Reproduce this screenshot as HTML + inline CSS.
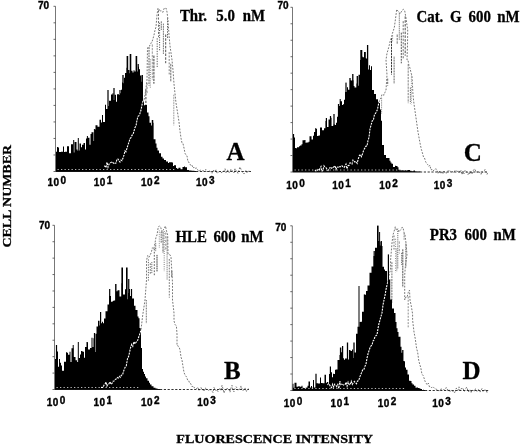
<!DOCTYPE html>
<html><head><meta charset="utf-8"><style>
html,body{margin:0;padding:0;background:#fff;width:520px;height:445px;overflow:hidden}
svg{display:block;filter:grayscale(1)}
</style></head><body>
<svg width="520" height="445" viewBox="0 0 520 445">
<rect width="520" height="445" fill="#fff"/>
<clipPath id="clipA"><path d="M56.00,171.50 L56.00,151.79 L57.00,151.79 L57.00,146.92 L58.00,146.92 L58.00,147.41 L59.00,147.41 L59.00,152.05 L61.00,152.05 L61.00,151.75 L63.00,151.75 L63.00,146.55 L64.00,146.55 L64.00,151.94 L65.00,151.94 L65.00,151.78 L67.00,151.78 L67.00,146.35 L69.00,146.35 L69.00,153.30 L71.00,153.30 L71.00,144.19 L73.00,144.19 L73.00,152.47 L74.50,152.47 L74.50,142.12 L76.50,142.12 L76.50,149.60 L77.50,149.60 L77.50,150.69 L78.50,150.69 L78.50,150.50 L79.50,150.50 L79.50,143.38 L81.00,143.38 L81.00,147.35 L82.00,147.35 L82.00,144.83 L83.50,144.83 L83.50,143.01 L85.00,143.01 L85.00,149.62 L86.00,149.62 L86.00,138.52 L87.00,138.52 L87.00,138.08 L88.00,138.08 L88.00,137.72 L89.50,137.72 L89.50,144.81 L90.50,144.81 L90.50,133.98 L91.50,133.98 L91.50,132.35 L93.50,132.35 L93.50,141.10 L94.50,141.10 L94.50,129.38 L95.50,129.38 L95.50,125.13 L97.50,125.13 L97.50,126.72 L99.50,126.72 L99.50,119.64 L101.00,119.64 L101.00,122.44 L102.00,122.44 L102.00,115.04 L103.00,115.04 L103.00,121.92 L105.00,121.92 L105.00,104.79 L106.00,104.79 L106.00,108.97 L108.00,108.97 L108.00,105.89 L109.00,105.89 L109.00,100.75 L111.00,100.75 L111.00,94.59 L112.50,94.59 L112.50,93.30 L113.50,93.30 L113.50,99.92 L114.50,99.92 L114.50,94.66 L116.00,94.66 L116.00,101.69 L117.00,101.69 L117.00,94.26 L119.00,94.26 L119.00,94.99 L120.00,94.99 L120.00,93.33 L121.00,93.33 L121.00,89.86 L122.00,89.86 L122.00,82.54 L123.00,82.54 L123.00,83.15 L124.00,83.15 L124.00,77.80 L125.00,77.80 L125.00,73.02 L126.50,73.02 L126.50,67.83 L127.50,67.83 L127.50,70.01 L129.50,70.01 L129.50,73.17 L130.50,73.17 L130.50,70.86 L132.50,70.86 L132.50,72.45 L133.50,72.45 L133.50,70.28 L134.50,70.28 L134.50,71.53 L136.00,71.53 L136.00,71.57 L138.00,71.57 L138.00,66.75 L139.00,66.75 L139.00,69.29 L140.00,69.29 L140.00,75.48 L141.50,75.48 L141.50,81.86 L143.00,81.86 L143.00,101.40 L144.00,101.40 L144.00,105.24 L145.00,105.24 L145.00,105.04 L147.00,105.04 L147.00,112.45 L148.50,112.45 L148.50,116.19 L149.50,116.19 L149.50,122.67 L151.00,122.67 L151.00,125.39 L152.00,125.39 L152.00,122.67 L153.50,122.67 L153.50,139.34 L155.50,139.34 L155.50,143.58 L156.50,143.58 L156.50,147.78 L157.50,147.78 L157.50,150.58 L159.00,150.58 L159.00,153.22 L161.00,153.22 L161.00,156.72 L162.50,156.72 L162.50,158.46 L164.00,158.46 L164.00,160.03 L166.00,160.03 L166.00,161.44 L168.00,161.44 L168.00,163.06 L169.00,163.06 L169.00,162.17 L170.00,162.17 L170.00,162.29 L172.00,162.29 L172.00,162.41 L173.00,162.41 L173.00,165.88 L174.00,165.88 L174.00,165.27 L176.00,165.27 L176.00,167.99 L177.00,167.99 L177.00,168.78 L178.50,168.78 L178.50,167.73 L180.50,167.73 L180.50,169.30 L182.50,169.30 L182.50,167.00 L184.00,167.00 L184.00,166.41 L185.00,166.41 L185.00,167.36 L187.00,167.36 L187.00,170.04 L189.00,170.04 L189.00,170.39 L190.00,170.39 L190.00,170.41 L191.50,170.41 L191.50,170.64 L192.50,170.64 L192.50,170.79 L194.50,170.79 L194.50,171.00 L195.50,171.00 L195.50,171.00 L196.50,171.00 L196.50,171.50 Z"/></clipPath>
<line x1="145.9" y1="89.6" x2="145.9" y2="116.7" stroke="#2a2a2a" stroke-width="0.9" stroke-dasharray="2.3 1.4"/>
<line x1="147.0" y1="82.9" x2="147.0" y2="94.2" stroke="#747474" stroke-width="0.9" stroke-dasharray="2.4 1.5"/>
<line x1="149.0" y1="47.2" x2="149.0" y2="85.7" stroke="#484848" stroke-width="0.9" stroke-dasharray="1.8 0.9"/>
<line x1="150.3" y1="59.4" x2="150.3" y2="88.5" stroke="#686868" stroke-width="0.9" stroke-dasharray="0.9 1.2"/>
<line x1="152.3" y1="44.4" x2="152.3" y2="79.9" stroke="#8b8b8b" stroke-width="0.9" stroke-dasharray="2.4 1.1"/>
<line x1="153.9" y1="55.6" x2="153.9" y2="83.7" stroke="#282828" stroke-width="0.9" stroke-dasharray="2.4 0.9"/>
<line x1="157.2" y1="38.3" x2="157.2" y2="67.0" stroke="#4e4e4e" stroke-width="0.9" stroke-dasharray="1.3 1.2"/>
<line x1="158.5" y1="10.3" x2="158.5" y2="37.2" stroke="#5f5f5f" stroke-width="0.9" stroke-dasharray="2.1 1.5"/>
<line x1="159.6" y1="22.8" x2="159.6" y2="51.0" stroke="#303030" stroke-width="0.9" stroke-dasharray="1.0 1.4"/>
<line x1="161.3" y1="21.3" x2="161.3" y2="30.0" stroke="#636363" stroke-width="0.9" stroke-dasharray="1.8 0.6"/>
<line x1="163.4" y1="23.6" x2="163.4" y2="54.0" stroke="#6c6c6c" stroke-width="0.9" stroke-dasharray="1.8 0.6"/>
<line x1="165.7" y1="34.5" x2="165.7" y2="63.2" stroke="#404040" stroke-width="0.9" stroke-dasharray="2.5 1.3"/>
<line x1="167.5" y1="18.3" x2="167.5" y2="39.2" stroke="#494949" stroke-width="0.9" stroke-dasharray="1.4 1.2"/>
<line x1="169.2" y1="52.2" x2="169.2" y2="74.4" stroke="#747474" stroke-width="0.9" stroke-dasharray="1.9 1.5"/>
<line x1="170.8" y1="63.8" x2="170.8" y2="81.9" stroke="#616161" stroke-width="0.9" stroke-dasharray="2.4 0.6"/>
<line x1="173.8" y1="94.7" x2="173.8" y2="125.4" stroke="#909090" stroke-width="0.9" stroke-dasharray="1.7 0.8"/>
<path d="M104.00,166.00 L105.00,166.20 L106.00,167.60 L107.00,162.32 L108.00,167.20 L109.00,164.26 L110.00,162.80 L111.00,162.46 L112.00,161.71 L113.00,162.66 L114.00,163.92 L115.00,163.21 L116.00,162.96 L117.00,159.12 L118.00,158.98 L119.00,161.00 L120.00,162.13 L121.00,160.05 L122.00,160.67 L123.00,158.01 L124.00,155.00 L125.00,150.86 L126.00,151.73 L127.00,148.14 L128.00,144.92 L129.00,142.00 L130.00,138.57 L131.00,137.60 L132.00,135.18 L133.00,134.54 L134.00,131.00 L135.00,127.52 L136.00,126.04 L137.00,120.00 L138.00,116.34 L139.00,115.71 L140.00,113.25 L141.00,110.00 L142.00,104.95 L143.00,100.73 L144.00,100.27 L145.00,95.00 L146.00,88.28 L147.00,80.00 L147.50,48.00 L148.53,46.51 L149.55,46.09 L150.57,43.24 L151.60,43.00 L152.80,39.36 L154.00,35.00 L155.00,30.09 L156.00,27.00 L157.00,15.00 L158.00,8.00 L159.00,9.28 L160.00,11.48 L161.00,10.49 L162.00,12.00 L163.00,12.27 L164.00,8.45 L165.00,8.57 L166.00,8.00 L167.00,11.95 L168.00,20.00 L169.00,35.00 L170.00,46.00 L171.00,52.85 L172.00,60.00 L173.00,70.00 L174.00,84.00 L175.00,93.62 L176.00,103.00 L177.00,109.04 L178.00,115.27 L179.00,122.00 L180.00,131.01 L181.00,138.14 L182.00,143.00 L183.00,143.68 L184.00,148.00 L185.00,153.26 L186.00,155.00 L187.00,155.92 L188.00,162.00 L189.00,162.10 L190.00,164.14 L191.00,165.77 L192.00,165.23 L193.00,168.00 L194.00,167.22 L195.00,168.71 L196.00,167.86 L197.00,168.24 L198.00,170.50 L199.00,171.20 L200.00,170.01 L201.00,170.43 L202.00,170.67 L203.00,171.00 L204.00,170.33 L205.00,170.25 L206.00,169.47 L207.00,172.01 L208.00,170.93 L209.00,170.86 L210.00,171.37 L211.00,171.88 L212.00,173.23 L213.00,170.69 L214.00,170.51 L215.00,171.43 L216.00,169.87 L217.00,173.05 L218.00,172.55 L219.00,172.21 L220.00,171.00 L221.00,172.30 L222.00,172.77 L223.00,171.96 L224.00,170.80 L225.00,168.70 L226.00,172.66 L227.00,170.72 L228.00,170.00 L229.00,172.61 L230.00,171.79 L231.00,169.16 L232.00,171.15 L233.00,170.91 L234.00,172.81 L235.00,168.49 L236.00,170.77 L237.00,171.15 L238.00,173.49 L239.00,169.75 L240.00,166.97 L241.00,169.32 L242.00,171.80 L243.00,172.63 L244.00,174.03 L245.00,172.04 L246.00,170.24 L247.00,172.78 L248.00,171.45 L249.00,171.18 L250.00,171.52 L251.00,171.50" fill="none" stroke="#777" stroke-width="1.0" stroke-dasharray="1.8 1.4"/>
<path d="M56.00,171.50 L56.00,151.79 L57.00,151.79 L57.00,146.92 L58.00,146.92 L58.00,147.41 L59.00,147.41 L59.00,152.05 L61.00,152.05 L61.00,151.75 L63.00,151.75 L63.00,146.55 L64.00,146.55 L64.00,151.94 L65.00,151.94 L65.00,151.78 L67.00,151.78 L67.00,146.35 L69.00,146.35 L69.00,153.30 L71.00,153.30 L71.00,144.19 L73.00,144.19 L73.00,152.47 L74.50,152.47 L74.50,142.12 L76.50,142.12 L76.50,149.60 L77.50,149.60 L77.50,150.69 L78.50,150.69 L78.50,150.50 L79.50,150.50 L79.50,143.38 L81.00,143.38 L81.00,147.35 L82.00,147.35 L82.00,144.83 L83.50,144.83 L83.50,143.01 L85.00,143.01 L85.00,149.62 L86.00,149.62 L86.00,138.52 L87.00,138.52 L87.00,138.08 L88.00,138.08 L88.00,137.72 L89.50,137.72 L89.50,144.81 L90.50,144.81 L90.50,133.98 L91.50,133.98 L91.50,132.35 L93.50,132.35 L93.50,141.10 L94.50,141.10 L94.50,129.38 L95.50,129.38 L95.50,125.13 L97.50,125.13 L97.50,126.72 L99.50,126.72 L99.50,119.64 L101.00,119.64 L101.00,122.44 L102.00,122.44 L102.00,115.04 L103.00,115.04 L103.00,121.92 L105.00,121.92 L105.00,104.79 L106.00,104.79 L106.00,108.97 L108.00,108.97 L108.00,105.89 L109.00,105.89 L109.00,100.75 L111.00,100.75 L111.00,94.59 L112.50,94.59 L112.50,93.30 L113.50,93.30 L113.50,99.92 L114.50,99.92 L114.50,94.66 L116.00,94.66 L116.00,101.69 L117.00,101.69 L117.00,94.26 L119.00,94.26 L119.00,94.99 L120.00,94.99 L120.00,93.33 L121.00,93.33 L121.00,89.86 L122.00,89.86 L122.00,82.54 L123.00,82.54 L123.00,83.15 L124.00,83.15 L124.00,77.80 L125.00,77.80 L125.00,73.02 L126.50,73.02 L126.50,67.83 L127.50,67.83 L127.50,70.01 L129.50,70.01 L129.50,73.17 L130.50,73.17 L130.50,70.86 L132.50,70.86 L132.50,72.45 L133.50,72.45 L133.50,70.28 L134.50,70.28 L134.50,71.53 L136.00,71.53 L136.00,71.57 L138.00,71.57 L138.00,66.75 L139.00,66.75 L139.00,69.29 L140.00,69.29 L140.00,75.48 L141.50,75.48 L141.50,81.86 L143.00,81.86 L143.00,101.40 L144.00,101.40 L144.00,105.24 L145.00,105.24 L145.00,105.04 L147.00,105.04 L147.00,112.45 L148.50,112.45 L148.50,116.19 L149.50,116.19 L149.50,122.67 L151.00,122.67 L151.00,125.39 L152.00,125.39 L152.00,122.67 L153.50,122.67 L153.50,139.34 L155.50,139.34 L155.50,143.58 L156.50,143.58 L156.50,147.78 L157.50,147.78 L157.50,150.58 L159.00,150.58 L159.00,153.22 L161.00,153.22 L161.00,156.72 L162.50,156.72 L162.50,158.46 L164.00,158.46 L164.00,160.03 L166.00,160.03 L166.00,161.44 L168.00,161.44 L168.00,163.06 L169.00,163.06 L169.00,162.17 L170.00,162.17 L170.00,162.29 L172.00,162.29 L172.00,162.41 L173.00,162.41 L173.00,165.88 L174.00,165.88 L174.00,165.27 L176.00,165.27 L176.00,167.99 L177.00,167.99 L177.00,168.78 L178.50,168.78 L178.50,167.73 L180.50,167.73 L180.50,169.30 L182.50,169.30 L182.50,167.00 L184.00,167.00 L184.00,166.41 L185.00,166.41 L185.00,167.36 L187.00,167.36 L187.00,170.04 L189.00,170.04 L189.00,170.39 L190.00,170.39 L190.00,170.41 L191.50,170.41 L191.50,170.64 L192.50,170.64 L192.50,170.79 L194.50,170.79 L194.50,171.00 L195.50,171.00 L195.50,171.00 L196.50,171.00 L196.50,171.50 Z" fill="#000"/>
<rect x="107.40" y="90.00" width="1.20" height="81.50" fill="#000"/>
<rect x="113.40" y="88.00" width="1.20" height="83.50" fill="#000"/>
<rect x="119.40" y="90.00" width="1.20" height="81.50" fill="#000"/>
<rect x="122.35" y="75.00" width="1.30" height="96.50" fill="#000"/>
<rect x="126.60" y="56.00" width="1.60" height="115.50" fill="#000"/>
<rect x="129.70" y="54.00" width="1.60" height="117.50" fill="#000"/>
<rect x="135.60" y="56.00" width="1.60" height="115.50" fill="#000"/>
<rect x="137.60" y="64.00" width="1.20" height="107.50" fill="#000"/>
<rect x="141.65" y="75.00" width="1.30" height="96.50" fill="#000"/>
<rect x="151.75" y="120.00" width="1.50" height="51.50" fill="#000"/>
<rect x="93.90" y="129.00" width="1.00" height="42.50" fill="#000"/>
<rect x="86.90" y="136.00" width="1.00" height="35.50" fill="#000"/>
<rect x="73.20" y="140.00" width="1.00" height="31.50" fill="#000"/>
<rect x="77.80" y="138.00" width="1.00" height="33.50" fill="#000"/>
<path d="M104.00,166.00 L105.00,166.20 L106.00,167.60 L107.00,162.32 L108.00,167.20 L109.00,164.26 L110.00,162.80 L111.00,162.46 L112.00,161.71 L113.00,162.66 L114.00,163.92 L115.00,163.21 L116.00,162.96 L117.00,159.12 L118.00,158.98 L119.00,161.00 L120.00,162.13 L121.00,160.05 L122.00,160.67 L123.00,158.01 L124.00,155.00 L125.00,150.86 L126.00,151.73 L127.00,148.14 L128.00,144.92 L129.00,142.00 L130.00,138.57 L131.00,137.60 L132.00,135.18 L133.00,134.54 L134.00,131.00 L135.00,127.52 L136.00,126.04 L137.00,120.00 L138.00,116.34 L139.00,115.71 L140.00,113.25 L141.00,110.00 L142.00,104.95 L143.00,100.73 L144.00,100.27 L145.00,95.00 L146.00,88.28 L147.00,80.00 L147.50,48.00 L148.53,46.51 L149.55,46.09 L150.57,43.24 L151.60,43.00 L152.80,39.36 L154.00,35.00 L155.00,30.09 L156.00,27.00 L157.00,15.00 L158.00,8.00 L159.00,9.28 L160.00,11.48 L161.00,10.49 L162.00,12.00 L163.00,12.27 L164.00,8.45 L165.00,8.57 L166.00,8.00 L167.00,11.95 L168.00,20.00 L169.00,35.00 L170.00,46.00 L171.00,52.85 L172.00,60.00 L173.00,70.00 L174.00,84.00 L175.00,93.62 L176.00,103.00 L177.00,109.04 L178.00,115.27 L179.00,122.00 L180.00,131.01 L181.00,138.14 L182.00,143.00 L183.00,143.68 L184.00,148.00 L185.00,153.26 L186.00,155.00 L187.00,155.92 L188.00,162.00 L189.00,162.10 L190.00,164.14 L191.00,165.77 L192.00,165.23 L193.00,168.00 L194.00,167.22 L195.00,168.71 L196.00,167.86 L197.00,168.24 L198.00,170.50 L199.00,171.20 L200.00,170.01 L201.00,170.43 L202.00,170.67 L203.00,171.00 L204.00,170.33 L205.00,170.25 L206.00,169.47 L207.00,172.01 L208.00,170.93 L209.00,170.86 L210.00,171.37 L211.00,171.88 L212.00,173.23 L213.00,170.69 L214.00,170.51 L215.00,171.43 L216.00,169.87 L217.00,173.05 L218.00,172.55 L219.00,172.21 L220.00,171.00 L221.00,172.30 L222.00,172.77 L223.00,171.96 L224.00,170.80 L225.00,168.70 L226.00,172.66 L227.00,170.72 L228.00,170.00 L229.00,172.61 L230.00,171.79 L231.00,169.16 L232.00,171.15 L233.00,170.91 L234.00,172.81 L235.00,168.49 L236.00,170.77 L237.00,171.15 L238.00,173.49 L239.00,169.75 L240.00,166.97 L241.00,169.32 L242.00,171.80 L243.00,172.63 L244.00,174.03 L245.00,172.04 L246.00,170.24 L247.00,172.78 L248.00,171.45 L249.00,171.18 L250.00,171.52 L251.00,171.50" fill="none" stroke="#fff" stroke-width="1.1" stroke-dasharray="2 1" clip-path="url(#clipA)"/>
<line x1="55.5" y1="6.3" x2="55.5" y2="171.5" stroke="#777" stroke-width="1"/>
<line x1="57.5" y1="169.50" x2="176" y2="169.50" stroke="#fff" stroke-width="0.9" stroke-dasharray="1.3 2.2" opacity="0.8"/>
<line x1="55.5" y1="171.5" x2="196" y2="171.5" stroke="#111" stroke-width="1.1"/>
<line x1="196" y1="171.5" x2="251" y2="171.5" stroke="#333" stroke-width="1.1" stroke-dasharray="2.2 1.6"/>
<line x1="53.5" y1="6.30" x2="55.5" y2="6.30" stroke="#444" stroke-width="0.8"/>
<line x1="53.5" y1="22.82" x2="55.5" y2="22.82" stroke="#444" stroke-width="0.8"/>
<line x1="53.5" y1="39.34" x2="55.5" y2="39.34" stroke="#444" stroke-width="0.8"/>
<line x1="53.5" y1="55.86" x2="55.5" y2="55.86" stroke="#444" stroke-width="0.8"/>
<line x1="53.5" y1="72.38" x2="55.5" y2="72.38" stroke="#444" stroke-width="0.8"/>
<line x1="53.5" y1="88.90" x2="55.5" y2="88.90" stroke="#444" stroke-width="0.8"/>
<line x1="53.5" y1="105.42" x2="55.5" y2="105.42" stroke="#444" stroke-width="0.8"/>
<line x1="53.5" y1="121.94" x2="55.5" y2="121.94" stroke="#444" stroke-width="0.8"/>
<line x1="53.5" y1="138.46" x2="55.5" y2="138.46" stroke="#444" stroke-width="0.8"/>
<line x1="53.5" y1="154.98" x2="55.5" y2="154.98" stroke="#444" stroke-width="0.8"/>
<line x1="53.5" y1="171.50" x2="55.5" y2="171.50" stroke="#444" stroke-width="0.8"/>
<clipPath id="clipC"><path d="M293.00,172.00 L293.00,137.57 L295.00,137.57 L295.00,148.07 L296.00,148.07 L296.00,148.20 L297.00,148.20 L297.00,147.20 L299.00,147.20 L299.00,146.14 L300.00,146.14 L300.00,145.47 L301.50,145.47 L301.50,144.36 L302.50,144.36 L302.50,140.19 L304.50,140.19 L304.50,140.02 L305.50,140.02 L305.50,142.80 L306.50,142.80 L306.50,142.40 L308.50,142.40 L308.50,141.83 L309.50,141.83 L309.50,136.15 L311.50,136.15 L311.50,139.53 L313.00,139.53 L313.00,135.85 L314.00,135.85 L314.00,131.89 L315.50,131.89 L315.50,128.97 L317.00,128.97 L317.00,136.11 L318.50,136.11 L318.50,135.56 L320.00,135.56 L320.00,127.59 L322.00,127.59 L322.00,130.13 L324.00,130.13 L324.00,128.31 L325.50,128.31 L325.50,121.10 L326.50,121.10 L326.50,126.95 L328.50,126.95 L328.50,119.62 L330.50,119.62 L330.50,117.80 L331.50,117.80 L331.50,125.93 L333.50,125.93 L333.50,124.60 L335.00,124.60 L335.00,125.01 L336.00,125.01 L336.00,122.72 L337.00,122.72 L337.00,116.68 L338.00,116.68 L338.00,105.91 L340.00,105.91 L340.00,101.21 L342.00,101.21 L342.00,105.11 L343.00,105.11 L343.00,104.17 L344.00,104.17 L344.00,99.81 L345.00,99.81 L345.00,91.94 L347.00,91.94 L347.00,87.17 L348.00,87.17 L348.00,89.71 L350.00,89.71 L350.00,80.19 L351.00,80.19 L351.00,80.58 L352.50,80.58 L352.50,80.30 L353.50,80.30 L353.50,85.96 L354.50,85.96 L354.50,87.53 L356.50,87.53 L356.50,83.61 L357.50,83.61 L357.50,85.77 L358.50,85.77 L358.50,74.80 L360.00,74.80 L360.00,60.07 L361.00,60.07 L361.00,56.58 L362.50,56.58 L362.50,57.14 L364.00,57.14 L364.00,62.14 L365.00,62.14 L365.00,58.34 L366.00,58.34 L366.00,58.52 L367.50,58.52 L367.50,69.54 L369.00,69.54 L369.00,65.35 L370.00,65.35 L370.00,69.92 L371.00,69.92 L371.00,66.32 L372.00,66.32 L372.00,90.03 L374.00,90.03 L374.00,94.09 L376.00,94.09 L376.00,99.15 L378.00,99.15 L378.00,101.92 L379.00,101.92 L379.00,102.94 L380.00,102.94 L380.00,109.50 L381.00,109.50 L381.00,120.79 L382.00,120.79 L382.00,145.00 L384.00,145.00 L384.00,154.93 L386.00,154.93 L386.00,158.00 L387.50,158.00 L387.50,158.05 L389.50,158.05 L389.50,160.64 L390.50,160.64 L390.50,162.39 L391.50,162.39 L391.50,163.69 L393.00,163.69 L393.00,166.90 L395.00,166.90 L395.00,165.71 L396.00,165.71 L396.00,166.02 L397.50,166.02 L397.50,167.23 L398.50,167.23 L398.50,169.76 L400.50,169.76 L400.50,170.40 L401.50,170.40 L401.50,170.37 L403.50,170.37 L403.50,170.38 L405.00,170.38 L405.00,170.34 L406.00,170.34 L406.00,170.49 L407.00,170.49 L407.00,170.24 L408.00,170.24 L408.00,169.97 L410.00,169.97 L410.00,170.65 L411.50,170.65 L411.50,171.18 L412.50,171.18 L412.50,171.29 L413.50,171.29 L413.50,170.56 L415.00,170.56 L415.00,171.48 L416.50,171.48 L416.50,171.70 L418.50,171.70 L418.50,171.81 L419.50,171.81 L419.50,171.61 L420.50,171.61 L420.50,172.00 Z"/></clipPath>
<line x1="381.6" y1="97.8" x2="381.6" y2="113.8" stroke="#8f8f8f" stroke-width="0.9" stroke-dasharray="1.5 0.7"/>
<line x1="387.7" y1="78.6" x2="387.7" y2="85.6" stroke="#4d4d4d" stroke-width="0.9" stroke-dasharray="2.1 1.1"/>
<line x1="391.5" y1="38.0" x2="391.5" y2="74.6" stroke="#2c2c2c" stroke-width="0.9" stroke-dasharray="2.3 0.7"/>
<line x1="392.6" y1="35.1" x2="392.6" y2="41.3" stroke="#959595" stroke-width="0.9" stroke-dasharray="1.5 1.1"/>
<line x1="394.1" y1="56.7" x2="394.1" y2="83.8" stroke="#3b3b3b" stroke-width="0.9" stroke-dasharray="1.0 0.6"/>
<line x1="397.2" y1="34.5" x2="397.2" y2="43.7" stroke="#636363" stroke-width="0.9" stroke-dasharray="2.5 0.9"/>
<line x1="399.3" y1="13.2" x2="399.3" y2="40.0" stroke="#797979" stroke-width="0.9" stroke-dasharray="1.5 0.6"/>
<line x1="401.3" y1="32.7" x2="401.3" y2="63.3" stroke="#414141" stroke-width="0.9" stroke-dasharray="1.9 1.0"/>
<line x1="403.2" y1="21.2" x2="403.2" y2="58.9" stroke="#5f5f5f" stroke-width="0.9" stroke-dasharray="2.1 1.4"/>
<line x1="405.2" y1="16.4" x2="405.2" y2="55.7" stroke="#3d3d3d" stroke-width="0.9" stroke-dasharray="2.5 1.3"/>
<line x1="408.2" y1="64.1" x2="408.2" y2="103.2" stroke="#777777" stroke-width="0.9" stroke-dasharray="2.3 0.9"/>
<line x1="410.4" y1="87.6" x2="410.4" y2="103.4" stroke="#414141" stroke-width="0.9" stroke-dasharray="1.1 1.1"/>
<line x1="411.4" y1="75.6" x2="411.4" y2="104.4" stroke="#828282" stroke-width="0.9" stroke-dasharray="0.8 1.1"/>
<path d="M315.00,170.00 L316.00,171.24 L317.00,170.89 L318.00,169.60 L319.00,170.50 L320.00,168.42 L321.00,166.54 L322.00,171.68 L323.00,169.75 L324.00,165.82 L325.00,167.21 L326.00,167.75 L327.00,169.07 L328.00,170.43 L329.00,168.78 L330.00,167.55 L331.00,168.78 L332.00,167.63 L333.00,168.11 L334.00,166.72 L335.00,165.79 L336.00,169.40 L337.00,166.88 L338.00,167.42 L339.00,166.22 L340.00,167.00 L341.00,165.85 L342.00,165.80 L343.00,166.99 L344.00,167.49 L345.00,166.15 L346.00,164.17 L347.00,168.86 L348.00,165.59 L349.00,165.41 L350.00,162.85 L351.00,162.97 L352.00,163.91 L353.00,160.06 L354.00,161.17 L355.00,162.00 L356.07,161.46 L357.14,163.35 L358.21,159.21 L359.29,155.87 L360.36,154.46 L361.43,156.61 L362.50,154.00 L363.67,150.12 L364.83,148.15 L366.00,146.00 L367.00,146.11 L368.00,140.42 L369.00,137.50 L370.00,129.00 L371.10,124.97 L372.20,120.83 L373.30,120.48 L374.40,115.00 L376.00,112.50 L377.38,109.73 L378.75,103.00 L379.88,99.49 L381.00,98.00 L382.00,94.28 L383.00,94.62 L384.00,95.26 L385.00,92.28 L386.00,90.00 L387.00,75.00 L386.00,60.00 L387.00,53.18 L388.00,50.00 L389.20,45.50 L390.40,40.00 L391.40,37.90 L392.40,33.45 L393.40,30.50 L394.40,27.00 L396.00,15.00 L396.70,9.40 L397.80,10.94 L398.90,11.71 L400.00,14.00 L401.15,12.05 L402.30,10.05 L403.45,9.35 L404.60,10.20 L406.00,18.00 L407.70,30.00 L407.50,45.00 L407.00,60.00 L408.00,60.06 L409.00,65.99 L410.00,68.00 L411.00,72.72 L412.00,76.00 L413.00,95.00 L414.00,104.00 L415.60,115.00 L417.00,125.00 L418.00,132.00 L419.15,138.38 L420.30,144.60 L421.37,149.37 L422.43,152.93 L423.50,157.00 L424.53,158.00 L425.57,161.59 L426.60,163.50 L427.70,164.60 L428.80,166.40 L429.90,165.20 L431.00,170.00 L432.00,169.37 L433.00,171.02 L434.00,170.08 L435.00,169.55 L436.00,168.61 L437.00,170.25 L438.00,173.61 L439.00,170.78 L440.00,172.00 L441.00,173.51 L442.00,171.22 L443.00,173.52 L444.00,171.14 L445.00,172.52 L446.00,172.92 L447.00,172.87 L448.00,170.54 L449.00,171.45 L450.00,170.66 L451.00,171.77 L452.00,171.49 L453.00,171.60 L454.00,172.90 L455.00,170.41 L456.00,170.78 L457.00,171.11 L458.00,171.62 L459.00,170.78 L460.00,172.75 L461.00,170.36 L462.00,174.64 L463.00,172.07 L464.00,173.76 L465.00,170.38 L466.00,171.53 L467.00,172.21 L468.00,174.67 L469.00,172.19 L470.00,174.27 L471.00,170.98 L472.00,174.30 L473.00,171.03 L474.00,169.38 L475.00,169.09 L476.00,172.35 L477.00,171.72 L478.00,172.41 L479.00,171.93 L480.00,172.77 L481.00,174.48 L482.00,171.74 L483.00,172.46 L484.00,171.46 L485.00,169.45 L486.00,171.63 L487.00,174.31 L488.00,172.00" fill="none" stroke="#777" stroke-width="1.0" stroke-dasharray="1.8 1.4"/>
<path d="M293.00,172.00 L293.00,137.57 L295.00,137.57 L295.00,148.07 L296.00,148.07 L296.00,148.20 L297.00,148.20 L297.00,147.20 L299.00,147.20 L299.00,146.14 L300.00,146.14 L300.00,145.47 L301.50,145.47 L301.50,144.36 L302.50,144.36 L302.50,140.19 L304.50,140.19 L304.50,140.02 L305.50,140.02 L305.50,142.80 L306.50,142.80 L306.50,142.40 L308.50,142.40 L308.50,141.83 L309.50,141.83 L309.50,136.15 L311.50,136.15 L311.50,139.53 L313.00,139.53 L313.00,135.85 L314.00,135.85 L314.00,131.89 L315.50,131.89 L315.50,128.97 L317.00,128.97 L317.00,136.11 L318.50,136.11 L318.50,135.56 L320.00,135.56 L320.00,127.59 L322.00,127.59 L322.00,130.13 L324.00,130.13 L324.00,128.31 L325.50,128.31 L325.50,121.10 L326.50,121.10 L326.50,126.95 L328.50,126.95 L328.50,119.62 L330.50,119.62 L330.50,117.80 L331.50,117.80 L331.50,125.93 L333.50,125.93 L333.50,124.60 L335.00,124.60 L335.00,125.01 L336.00,125.01 L336.00,122.72 L337.00,122.72 L337.00,116.68 L338.00,116.68 L338.00,105.91 L340.00,105.91 L340.00,101.21 L342.00,101.21 L342.00,105.11 L343.00,105.11 L343.00,104.17 L344.00,104.17 L344.00,99.81 L345.00,99.81 L345.00,91.94 L347.00,91.94 L347.00,87.17 L348.00,87.17 L348.00,89.71 L350.00,89.71 L350.00,80.19 L351.00,80.19 L351.00,80.58 L352.50,80.58 L352.50,80.30 L353.50,80.30 L353.50,85.96 L354.50,85.96 L354.50,87.53 L356.50,87.53 L356.50,83.61 L357.50,83.61 L357.50,85.77 L358.50,85.77 L358.50,74.80 L360.00,74.80 L360.00,60.07 L361.00,60.07 L361.00,56.58 L362.50,56.58 L362.50,57.14 L364.00,57.14 L364.00,62.14 L365.00,62.14 L365.00,58.34 L366.00,58.34 L366.00,58.52 L367.50,58.52 L367.50,69.54 L369.00,69.54 L369.00,65.35 L370.00,65.35 L370.00,69.92 L371.00,69.92 L371.00,66.32 L372.00,66.32 L372.00,90.03 L374.00,90.03 L374.00,94.09 L376.00,94.09 L376.00,99.15 L378.00,99.15 L378.00,101.92 L379.00,101.92 L379.00,102.94 L380.00,102.94 L380.00,109.50 L381.00,109.50 L381.00,120.79 L382.00,120.79 L382.00,145.00 L384.00,145.00 L384.00,154.93 L386.00,154.93 L386.00,158.00 L387.50,158.00 L387.50,158.05 L389.50,158.05 L389.50,160.64 L390.50,160.64 L390.50,162.39 L391.50,162.39 L391.50,163.69 L393.00,163.69 L393.00,166.90 L395.00,166.90 L395.00,165.71 L396.00,165.71 L396.00,166.02 L397.50,166.02 L397.50,167.23 L398.50,167.23 L398.50,169.76 L400.50,169.76 L400.50,170.40 L401.50,170.40 L401.50,170.37 L403.50,170.37 L403.50,170.38 L405.00,170.38 L405.00,170.34 L406.00,170.34 L406.00,170.49 L407.00,170.49 L407.00,170.24 L408.00,170.24 L408.00,169.97 L410.00,169.97 L410.00,170.65 L411.50,170.65 L411.50,171.18 L412.50,171.18 L412.50,171.29 L413.50,171.29 L413.50,170.56 L415.00,170.56 L415.00,171.48 L416.50,171.48 L416.50,171.70 L418.50,171.70 L418.50,171.81 L419.50,171.81 L419.50,171.61 L420.50,171.61 L420.50,172.00 Z" fill="#000"/>
<rect x="292.90" y="134.00" width="1.20" height="38.00" fill="#000"/>
<rect x="315.30" y="128.00" width="1.00" height="44.00" fill="#000"/>
<rect x="320.30" y="128.00" width="1.00" height="44.00" fill="#000"/>
<rect x="325.80" y="118.00" width="1.20" height="54.00" fill="#000"/>
<rect x="329.90" y="116.00" width="1.20" height="56.00" fill="#000"/>
<rect x="333.40" y="114.00" width="1.20" height="58.00" fill="#000"/>
<rect x="337.90" y="104.00" width="1.20" height="68.00" fill="#000"/>
<rect x="339.70" y="99.00" width="1.00" height="73.00" fill="#000"/>
<rect x="345.40" y="82.60" width="1.20" height="89.40" fill="#000"/>
<rect x="349.35" y="78.00" width="1.30" height="94.00" fill="#000"/>
<rect x="352.15" y="74.00" width="1.30" height="98.00" fill="#000"/>
<rect x="356.65" y="76.00" width="1.30" height="96.00" fill="#000"/>
<rect x="360.30" y="50.00" width="2.00" height="122.00" fill="#000"/>
<rect x="364.00" y="52.00" width="1.80" height="120.00" fill="#000"/>
<rect x="366.95" y="45.00" width="1.30" height="127.00" fill="#000"/>
<rect x="386.00" y="158.00" width="1.00" height="14.00" fill="#000"/>
<rect x="388.00" y="158.00" width="1.00" height="14.00" fill="#000"/>
<path d="M315.00,170.00 L316.00,171.24 L317.00,170.89 L318.00,169.60 L319.00,170.50 L320.00,168.42 L321.00,166.54 L322.00,171.68 L323.00,169.75 L324.00,165.82 L325.00,167.21 L326.00,167.75 L327.00,169.07 L328.00,170.43 L329.00,168.78 L330.00,167.55 L331.00,168.78 L332.00,167.63 L333.00,168.11 L334.00,166.72 L335.00,165.79 L336.00,169.40 L337.00,166.88 L338.00,167.42 L339.00,166.22 L340.00,167.00 L341.00,165.85 L342.00,165.80 L343.00,166.99 L344.00,167.49 L345.00,166.15 L346.00,164.17 L347.00,168.86 L348.00,165.59 L349.00,165.41 L350.00,162.85 L351.00,162.97 L352.00,163.91 L353.00,160.06 L354.00,161.17 L355.00,162.00 L356.07,161.46 L357.14,163.35 L358.21,159.21 L359.29,155.87 L360.36,154.46 L361.43,156.61 L362.50,154.00 L363.67,150.12 L364.83,148.15 L366.00,146.00 L367.00,146.11 L368.00,140.42 L369.00,137.50 L370.00,129.00 L371.10,124.97 L372.20,120.83 L373.30,120.48 L374.40,115.00 L376.00,112.50 L377.38,109.73 L378.75,103.00 L379.88,99.49 L381.00,98.00 L382.00,94.28 L383.00,94.62 L384.00,95.26 L385.00,92.28 L386.00,90.00 L387.00,75.00 L386.00,60.00 L387.00,53.18 L388.00,50.00 L389.20,45.50 L390.40,40.00 L391.40,37.90 L392.40,33.45 L393.40,30.50 L394.40,27.00 L396.00,15.00 L396.70,9.40 L397.80,10.94 L398.90,11.71 L400.00,14.00 L401.15,12.05 L402.30,10.05 L403.45,9.35 L404.60,10.20 L406.00,18.00 L407.70,30.00 L407.50,45.00 L407.00,60.00 L408.00,60.06 L409.00,65.99 L410.00,68.00 L411.00,72.72 L412.00,76.00 L413.00,95.00 L414.00,104.00 L415.60,115.00 L417.00,125.00 L418.00,132.00 L419.15,138.38 L420.30,144.60 L421.37,149.37 L422.43,152.93 L423.50,157.00 L424.53,158.00 L425.57,161.59 L426.60,163.50 L427.70,164.60 L428.80,166.40 L429.90,165.20 L431.00,170.00 L432.00,169.37 L433.00,171.02 L434.00,170.08 L435.00,169.55 L436.00,168.61 L437.00,170.25 L438.00,173.61 L439.00,170.78 L440.00,172.00 L441.00,173.51 L442.00,171.22 L443.00,173.52 L444.00,171.14 L445.00,172.52 L446.00,172.92 L447.00,172.87 L448.00,170.54 L449.00,171.45 L450.00,170.66 L451.00,171.77 L452.00,171.49 L453.00,171.60 L454.00,172.90 L455.00,170.41 L456.00,170.78 L457.00,171.11 L458.00,171.62 L459.00,170.78 L460.00,172.75 L461.00,170.36 L462.00,174.64 L463.00,172.07 L464.00,173.76 L465.00,170.38 L466.00,171.53 L467.00,172.21 L468.00,174.67 L469.00,172.19 L470.00,174.27 L471.00,170.98 L472.00,174.30 L473.00,171.03 L474.00,169.38 L475.00,169.09 L476.00,172.35 L477.00,171.72 L478.00,172.41 L479.00,171.93 L480.00,172.77 L481.00,174.48 L482.00,171.74 L483.00,172.46 L484.00,171.46 L485.00,169.45 L486.00,171.63 L487.00,174.31 L488.00,172.00" fill="none" stroke="#fff" stroke-width="1.1" stroke-dasharray="2 1" clip-path="url(#clipC)"/>
<line x1="292.5" y1="7.3" x2="292.5" y2="172" stroke="#777" stroke-width="1"/>
<line x1="294.5" y1="170.00" x2="400" y2="170.00" stroke="#fff" stroke-width="0.9" stroke-dasharray="1.3 2.2" opacity="0.8"/>
<line x1="292.5" y1="172" x2="420" y2="172" stroke="#111" stroke-width="1.1"/>
<line x1="420" y1="172" x2="488" y2="172" stroke="#333" stroke-width="1.1" stroke-dasharray="2.2 1.6"/>
<line x1="290.5" y1="7.30" x2="292.5" y2="7.30" stroke="#444" stroke-width="0.8"/>
<line x1="290.5" y1="23.77" x2="292.5" y2="23.77" stroke="#444" stroke-width="0.8"/>
<line x1="290.5" y1="40.24" x2="292.5" y2="40.24" stroke="#444" stroke-width="0.8"/>
<line x1="290.5" y1="56.71" x2="292.5" y2="56.71" stroke="#444" stroke-width="0.8"/>
<line x1="290.5" y1="73.18" x2="292.5" y2="73.18" stroke="#444" stroke-width="0.8"/>
<line x1="290.5" y1="89.65" x2="292.5" y2="89.65" stroke="#444" stroke-width="0.8"/>
<line x1="290.5" y1="106.12" x2="292.5" y2="106.12" stroke="#444" stroke-width="0.8"/>
<line x1="290.5" y1="122.59" x2="292.5" y2="122.59" stroke="#444" stroke-width="0.8"/>
<line x1="290.5" y1="139.06" x2="292.5" y2="139.06" stroke="#444" stroke-width="0.8"/>
<line x1="290.5" y1="155.53" x2="292.5" y2="155.53" stroke="#444" stroke-width="0.8"/>
<line x1="290.5" y1="172.00" x2="292.5" y2="172.00" stroke="#444" stroke-width="0.8"/>
<clipPath id="clipB"><path d="M55.00,389.50 L55.00,359.08 L57.00,359.08 L57.00,351.53 L58.00,351.53 L58.00,366.72 L59.00,366.72 L59.00,359.09 L60.00,359.09 L60.00,362.81 L61.00,362.81 L61.00,365.40 L62.00,365.40 L62.00,370.83 L64.00,370.83 L64.00,361.72 L66.00,361.72 L66.00,352.33 L67.00,352.33 L67.00,352.68 L68.00,352.68 L68.00,354.80 L69.50,354.80 L69.50,351.68 L70.50,351.68 L70.50,361.92 L71.50,361.92 L71.50,348.26 L73.50,348.26 L73.50,356.90 L75.50,356.90 L75.50,360.15 L77.00,360.15 L77.00,362.04 L78.50,362.04 L78.50,358.00 L80.00,358.00 L80.00,354.42 L81.00,354.42 L81.00,351.00 L82.50,351.00 L82.50,351.66 L84.00,351.66 L84.00,357.75 L85.00,357.75 L85.00,346.97 L87.00,346.97 L87.00,342.20 L88.00,342.20 L88.00,349.43 L90.00,349.43 L90.00,348.02 L91.50,348.02 L91.50,337.81 L92.50,337.81 L92.50,347.07 L93.50,347.07 L93.50,338.31 L94.50,338.31 L94.50,351.96 L95.50,351.96 L95.50,333.74 L96.50,333.74 L96.50,326.40 L98.00,326.40 L98.00,320.71 L99.50,320.71 L99.50,325.41 L100.50,325.41 L100.50,323.14 L102.00,323.14 L102.00,321.81 L103.00,321.81 L103.00,323.34 L104.00,323.34 L104.00,318.42 L105.50,318.42 L105.50,311.28 L107.50,311.28 L107.50,304.43 L109.00,304.43 L109.00,296.04 L111.00,296.04 L111.00,301.70 L112.00,301.70 L112.00,301.53 L113.00,301.53 L113.00,300.67 L114.00,300.67 L114.00,300.58 L116.00,300.58 L116.00,291.31 L117.50,291.31 L117.50,290.24 L119.50,290.24 L119.50,296.62 L121.50,296.62 L121.50,283.32 L123.00,283.32 L123.00,294.49 L125.00,294.49 L125.00,289.21 L126.00,289.21 L126.00,296.30 L127.00,296.30 L127.00,299.14 L128.00,299.14 L128.00,292.96 L129.00,292.96 L129.00,288.92 L130.00,288.92 L130.00,295.93 L131.00,295.93 L131.00,298.77 L132.00,298.77 L132.00,298.43 L134.00,298.43 L134.00,305.73 L135.50,305.73 L135.50,309.93 L137.50,309.93 L137.50,316.57 L138.50,316.57 L138.50,318.35 L139.50,318.35 L139.50,328.09 L141.00,328.09 L141.00,348.05 L142.00,348.05 L142.00,369.03 L143.00,369.03 L143.00,371.84 L144.00,371.84 L144.00,374.01 L145.00,374.01 L145.00,376.45 L146.00,376.45 L146.00,378.27 L147.50,378.27 L147.50,380.75 L149.00,380.75 L149.00,382.75 L150.00,382.75 L150.00,384.62 L151.50,384.62 L151.50,386.34 L153.50,386.34 L153.50,387.81 L155.50,387.81 L155.50,388.46 L156.50,388.46 L156.50,388.61 L157.50,388.61 L157.50,388.93 L158.50,388.93 L158.50,389.41 L159.50,389.41 L159.50,389.50 L161.00,389.50 L161.00,389.50 Z"/></clipPath>
<line x1="146.3" y1="300.0" x2="146.3" y2="323.1" stroke="#5d5d5d" stroke-width="0.9" stroke-dasharray="1.0 0.6"/>
<line x1="148.4" y1="259.4" x2="148.4" y2="280.8" stroke="#545454" stroke-width="0.9" stroke-dasharray="1.2 1.3"/>
<line x1="150.3" y1="263.3" x2="150.3" y2="274.4" stroke="#686868" stroke-width="0.9" stroke-dasharray="1.7 1.2"/>
<line x1="151.8" y1="262.2" x2="151.8" y2="273.1" stroke="#484848" stroke-width="0.9" stroke-dasharray="1.0 1.0"/>
<line x1="154.3" y1="248.7" x2="154.3" y2="275.6" stroke="#4f4f4f" stroke-width="0.9" stroke-dasharray="1.7 1.4"/>
<line x1="155.7" y1="243.3" x2="155.7" y2="251.4" stroke="#3d3d3d" stroke-width="0.9" stroke-dasharray="0.9 0.7"/>
<line x1="157.0" y1="254.9" x2="157.0" y2="271.9" stroke="#2f2f2f" stroke-width="0.9" stroke-dasharray="1.6 0.5"/>
<line x1="159.3" y1="230.5" x2="159.3" y2="247.5" stroke="#7b7b7b" stroke-width="0.9" stroke-dasharray="0.8 1.0"/>
<line x1="161.2" y1="231.9" x2="161.2" y2="243.2" stroke="#4b4b4b" stroke-width="0.9" stroke-dasharray="1.5 0.8"/>
<line x1="163.0" y1="232.1" x2="163.0" y2="252.5" stroke="#363636" stroke-width="0.9" stroke-dasharray="1.0 0.5"/>
<line x1="164.2" y1="231.1" x2="164.2" y2="271.1" stroke="#616161" stroke-width="0.9" stroke-dasharray="0.9 1.3"/>
<line x1="165.8" y1="232.5" x2="165.8" y2="249.9" stroke="#797979" stroke-width="0.9" stroke-dasharray="2.2 1.5"/>
<line x1="167.1" y1="236.5" x2="167.1" y2="279.8" stroke="#818181" stroke-width="0.9" stroke-dasharray="1.3 0.6"/>
<line x1="169.3" y1="259.0" x2="169.3" y2="297.7" stroke="#6b6b6b" stroke-width="0.9" stroke-dasharray="1.7 1.2"/>
<line x1="171.8" y1="271.0" x2="171.8" y2="277.8" stroke="#464646" stroke-width="0.9" stroke-dasharray="2.5 1.0"/>
<path d="M101.00,387.50 L102.00,387.37 L103.00,387.52 L104.00,385.12 L105.00,384.14 L106.00,382.01 L107.00,385.96 L108.00,384.02 L109.00,383.81 L110.00,381.82 L111.00,384.34 L112.00,383.41 L113.00,381.32 L114.00,381.00 L115.06,379.42 L116.12,378.96 L117.19,377.55 L118.25,378.04 L119.31,376.33 L120.38,377.38 L121.44,375.21 L122.50,375.00 L123.75,370.72 L125.00,367.50 L126.25,365.97 L127.50,358.74 L128.75,356.00 L130.60,347.50 L131.70,344.27 L132.80,346.30 L133.90,341.76 L135.00,344.00 L136.25,342.06 L137.50,340.81 L138.75,337.00 L139.88,333.61 L141.00,330.00 L142.60,316.00 L143.80,308.01 L145.00,300.00 L146.50,280.00 L146.50,260.60 L147.68,255.55 L148.85,257.48 L150.02,255.27 L151.20,252.70 L152.47,247.71 L153.73,249.10 L155.00,243.00 L156.00,237.16 L157.00,235.00 L158.30,226.80 L159.53,226.01 L160.77,227.55 L162.00,232.00 L163.13,230.04 L164.27,228.51 L165.40,226.00 L166.55,231.16 L167.70,235.00 L168.00,254.00 L169.00,254.49 L170.00,254.78 L171.00,257.00 L172.50,283.00 L172.50,300.00 L174.00,313.00 L174.00,321.00 L175.20,324.76 L176.40,326.00 L177.00,334.00 L177.00,345.70 L178.00,345.79 L179.00,346.75 L180.00,350.00 L181.00,357.10 L182.00,360.00 L183.00,366.52 L184.00,372.50 L185.30,375.46 L186.60,377.00 L187.63,380.11 L188.67,380.48 L189.70,383.50 L190.90,383.83 L192.10,386.71 L193.30,385.95 L194.50,388.00 L195.60,388.80 L196.70,388.47 L197.80,387.11 L198.90,390.65 L200.00,389.50 L201.00,387.57 L202.00,389.85 L203.00,389.60 L204.00,391.40 L205.00,387.82 L206.00,388.69 L207.00,389.35 L208.00,389.77 L209.00,390.80 L210.00,389.97 L211.00,389.54 L212.00,391.04 L213.00,392.64 L214.00,387.47 L215.00,389.49 L216.00,390.64 L217.00,389.63 L218.00,391.65 L219.00,389.00 L220.00,387.98 L221.00,390.81 L222.00,385.34 L223.00,388.79 L224.00,393.05 L225.00,389.54 L226.00,390.04 L227.00,388.07 L228.00,389.47 L229.00,389.29 L230.00,392.29 L231.00,387.98 L232.00,385.36 L233.00,390.11 L234.00,391.83 L235.00,388.47 L236.00,386.76 L237.00,387.89 L238.00,390.15 L239.00,388.66 L240.00,389.56 L241.00,385.96 L242.00,388.72 L243.00,390.68 L244.00,389.10 L245.00,387.96 L246.00,391.08 L247.00,390.98 L248.00,388.80 L249.00,389.50" fill="none" stroke="#777" stroke-width="1.0" stroke-dasharray="1.8 1.4"/>
<path d="M55.00,389.50 L55.00,359.08 L57.00,359.08 L57.00,351.53 L58.00,351.53 L58.00,366.72 L59.00,366.72 L59.00,359.09 L60.00,359.09 L60.00,362.81 L61.00,362.81 L61.00,365.40 L62.00,365.40 L62.00,370.83 L64.00,370.83 L64.00,361.72 L66.00,361.72 L66.00,352.33 L67.00,352.33 L67.00,352.68 L68.00,352.68 L68.00,354.80 L69.50,354.80 L69.50,351.68 L70.50,351.68 L70.50,361.92 L71.50,361.92 L71.50,348.26 L73.50,348.26 L73.50,356.90 L75.50,356.90 L75.50,360.15 L77.00,360.15 L77.00,362.04 L78.50,362.04 L78.50,358.00 L80.00,358.00 L80.00,354.42 L81.00,354.42 L81.00,351.00 L82.50,351.00 L82.50,351.66 L84.00,351.66 L84.00,357.75 L85.00,357.75 L85.00,346.97 L87.00,346.97 L87.00,342.20 L88.00,342.20 L88.00,349.43 L90.00,349.43 L90.00,348.02 L91.50,348.02 L91.50,337.81 L92.50,337.81 L92.50,347.07 L93.50,347.07 L93.50,338.31 L94.50,338.31 L94.50,351.96 L95.50,351.96 L95.50,333.74 L96.50,333.74 L96.50,326.40 L98.00,326.40 L98.00,320.71 L99.50,320.71 L99.50,325.41 L100.50,325.41 L100.50,323.14 L102.00,323.14 L102.00,321.81 L103.00,321.81 L103.00,323.34 L104.00,323.34 L104.00,318.42 L105.50,318.42 L105.50,311.28 L107.50,311.28 L107.50,304.43 L109.00,304.43 L109.00,296.04 L111.00,296.04 L111.00,301.70 L112.00,301.70 L112.00,301.53 L113.00,301.53 L113.00,300.67 L114.00,300.67 L114.00,300.58 L116.00,300.58 L116.00,291.31 L117.50,291.31 L117.50,290.24 L119.50,290.24 L119.50,296.62 L121.50,296.62 L121.50,283.32 L123.00,283.32 L123.00,294.49 L125.00,294.49 L125.00,289.21 L126.00,289.21 L126.00,296.30 L127.00,296.30 L127.00,299.14 L128.00,299.14 L128.00,292.96 L129.00,292.96 L129.00,288.92 L130.00,288.92 L130.00,295.93 L131.00,295.93 L131.00,298.77 L132.00,298.77 L132.00,298.43 L134.00,298.43 L134.00,305.73 L135.50,305.73 L135.50,309.93 L137.50,309.93 L137.50,316.57 L138.50,316.57 L138.50,318.35 L139.50,318.35 L139.50,328.09 L141.00,328.09 L141.00,348.05 L142.00,348.05 L142.00,369.03 L143.00,369.03 L143.00,371.84 L144.00,371.84 L144.00,374.01 L145.00,374.01 L145.00,376.45 L146.00,376.45 L146.00,378.27 L147.50,378.27 L147.50,380.75 L149.00,380.75 L149.00,382.75 L150.00,382.75 L150.00,384.62 L151.50,384.62 L151.50,386.34 L153.50,386.34 L153.50,387.81 L155.50,387.81 L155.50,388.46 L156.50,388.46 L156.50,388.61 L157.50,388.61 L157.50,388.93 L158.50,388.93 L158.50,389.41 L159.50,389.41 L159.50,389.50 L161.00,389.50 L161.00,389.50 Z" fill="#000"/>
<rect x="55.90" y="345.00" width="1.20" height="44.50" fill="#000"/>
<rect x="72.70" y="345.00" width="1.00" height="44.50" fill="#000"/>
<rect x="77.80" y="342.00" width="1.00" height="47.50" fill="#000"/>
<rect x="86.50" y="342.00" width="1.00" height="47.50" fill="#000"/>
<rect x="93.90" y="333.00" width="1.20" height="56.50" fill="#000"/>
<rect x="100.00" y="312.00" width="1.20" height="77.50" fill="#000"/>
<rect x="109.10" y="289.00" width="1.20" height="100.50" fill="#000"/>
<rect x="115.10" y="284.00" width="1.40" height="105.50" fill="#000"/>
<rect x="121.40" y="267.50" width="1.60" height="122.00" fill="#000"/>
<rect x="126.00" y="267.50" width="1.60" height="122.00" fill="#000"/>
<rect x="128.15" y="279.00" width="1.20" height="110.50" fill="#000"/>
<rect x="130.90" y="289.00" width="1.20" height="100.50" fill="#000"/>
<path d="M101.00,387.50 L102.00,387.37 L103.00,387.52 L104.00,385.12 L105.00,384.14 L106.00,382.01 L107.00,385.96 L108.00,384.02 L109.00,383.81 L110.00,381.82 L111.00,384.34 L112.00,383.41 L113.00,381.32 L114.00,381.00 L115.06,379.42 L116.12,378.96 L117.19,377.55 L118.25,378.04 L119.31,376.33 L120.38,377.38 L121.44,375.21 L122.50,375.00 L123.75,370.72 L125.00,367.50 L126.25,365.97 L127.50,358.74 L128.75,356.00 L130.60,347.50 L131.70,344.27 L132.80,346.30 L133.90,341.76 L135.00,344.00 L136.25,342.06 L137.50,340.81 L138.75,337.00 L139.88,333.61 L141.00,330.00 L142.60,316.00 L143.80,308.01 L145.00,300.00 L146.50,280.00 L146.50,260.60 L147.68,255.55 L148.85,257.48 L150.02,255.27 L151.20,252.70 L152.47,247.71 L153.73,249.10 L155.00,243.00 L156.00,237.16 L157.00,235.00 L158.30,226.80 L159.53,226.01 L160.77,227.55 L162.00,232.00 L163.13,230.04 L164.27,228.51 L165.40,226.00 L166.55,231.16 L167.70,235.00 L168.00,254.00 L169.00,254.49 L170.00,254.78 L171.00,257.00 L172.50,283.00 L172.50,300.00 L174.00,313.00 L174.00,321.00 L175.20,324.76 L176.40,326.00 L177.00,334.00 L177.00,345.70 L178.00,345.79 L179.00,346.75 L180.00,350.00 L181.00,357.10 L182.00,360.00 L183.00,366.52 L184.00,372.50 L185.30,375.46 L186.60,377.00 L187.63,380.11 L188.67,380.48 L189.70,383.50 L190.90,383.83 L192.10,386.71 L193.30,385.95 L194.50,388.00 L195.60,388.80 L196.70,388.47 L197.80,387.11 L198.90,390.65 L200.00,389.50 L201.00,387.57 L202.00,389.85 L203.00,389.60 L204.00,391.40 L205.00,387.82 L206.00,388.69 L207.00,389.35 L208.00,389.77 L209.00,390.80 L210.00,389.97 L211.00,389.54 L212.00,391.04 L213.00,392.64 L214.00,387.47 L215.00,389.49 L216.00,390.64 L217.00,389.63 L218.00,391.65 L219.00,389.00 L220.00,387.98 L221.00,390.81 L222.00,385.34 L223.00,388.79 L224.00,393.05 L225.00,389.54 L226.00,390.04 L227.00,388.07 L228.00,389.47 L229.00,389.29 L230.00,392.29 L231.00,387.98 L232.00,385.36 L233.00,390.11 L234.00,391.83 L235.00,388.47 L236.00,386.76 L237.00,387.89 L238.00,390.15 L239.00,388.66 L240.00,389.56 L241.00,385.96 L242.00,388.72 L243.00,390.68 L244.00,389.10 L245.00,387.96 L246.00,391.08 L247.00,390.98 L248.00,388.80 L249.00,389.50" fill="none" stroke="#fff" stroke-width="1.1" stroke-dasharray="2 1" clip-path="url(#clipB)"/>
<line x1="54.5" y1="225.3" x2="54.5" y2="389.5" stroke="#777" stroke-width="1"/>
<line x1="56.5" y1="387.50" x2="140" y2="387.50" stroke="#fff" stroke-width="0.9" stroke-dasharray="1.3 2.2" opacity="0.8"/>
<line x1="54.5" y1="389.5" x2="160" y2="389.5" stroke="#111" stroke-width="1.1"/>
<line x1="160" y1="389.5" x2="249" y2="389.5" stroke="#333" stroke-width="1.1" stroke-dasharray="2.2 1.6"/>
<line x1="52.5" y1="225.30" x2="54.5" y2="225.30" stroke="#444" stroke-width="0.8"/>
<line x1="52.5" y1="241.72" x2="54.5" y2="241.72" stroke="#444" stroke-width="0.8"/>
<line x1="52.5" y1="258.14" x2="54.5" y2="258.14" stroke="#444" stroke-width="0.8"/>
<line x1="52.5" y1="274.56" x2="54.5" y2="274.56" stroke="#444" stroke-width="0.8"/>
<line x1="52.5" y1="290.98" x2="54.5" y2="290.98" stroke="#444" stroke-width="0.8"/>
<line x1="52.5" y1="307.40" x2="54.5" y2="307.40" stroke="#444" stroke-width="0.8"/>
<line x1="52.5" y1="323.82" x2="54.5" y2="323.82" stroke="#444" stroke-width="0.8"/>
<line x1="52.5" y1="340.24" x2="54.5" y2="340.24" stroke="#444" stroke-width="0.8"/>
<line x1="52.5" y1="356.66" x2="54.5" y2="356.66" stroke="#444" stroke-width="0.8"/>
<line x1="52.5" y1="373.08" x2="54.5" y2="373.08" stroke="#444" stroke-width="0.8"/>
<line x1="52.5" y1="389.50" x2="54.5" y2="389.50" stroke="#444" stroke-width="0.8"/>
<clipPath id="clipD"><path d="M292.00,390.50 L292.00,383.74 L293.50,383.74 L293.50,387.78 L294.50,387.78 L294.50,382.70 L296.50,382.70 L296.50,386.66 L298.50,386.66 L298.50,386.03 L299.50,386.03 L299.50,386.81 L301.50,386.81 L301.50,385.75 L302.50,385.75 L302.50,387.71 L303.50,387.71 L303.50,387.90 L305.50,387.90 L305.50,387.64 L306.50,387.64 L306.50,387.44 L307.50,387.44 L307.50,385.63 L308.50,385.63 L308.50,381.40 L310.00,381.40 L310.00,387.39 L311.00,387.39 L311.00,386.10 L312.00,386.10 L312.00,387.83 L313.00,387.83 L313.00,380.11 L314.00,380.11 L314.00,387.42 L316.00,387.42 L316.00,383.32 L318.00,383.32 L318.00,383.53 L320.00,383.53 L320.00,377.55 L321.00,377.55 L321.00,383.04 L322.50,383.04 L322.50,383.33 L324.50,383.33 L324.50,374.76 L326.00,374.76 L326.00,382.73 L327.00,382.73 L327.00,382.01 L328.00,382.01 L328.00,382.68 L329.00,382.68 L329.00,373.92 L330.00,373.92 L330.00,372.31 L332.00,372.31 L332.00,377.21 L333.00,377.21 L333.00,373.78 L334.00,373.78 L334.00,374.00 L335.00,374.00 L335.00,369.84 L336.00,369.84 L336.00,369.62 L337.50,369.62 L337.50,360.09 L339.50,360.09 L339.50,355.00 L340.50,355.00 L340.50,352.28 L342.50,352.28 L342.50,358.17 L344.00,358.17 L344.00,359.71 L345.00,359.71 L345.00,358.41 L347.00,358.41 L347.00,348.74 L348.00,348.74 L348.00,359.55 L349.00,359.55 L349.00,350.09 L350.50,350.09 L350.50,351.04 L352.00,351.04 L352.00,349.41 L353.00,349.41 L353.00,358.02 L354.00,358.02 L354.00,352.56 L356.00,352.56 L356.00,333.86 L357.50,333.86 L357.50,326.73 L359.50,326.73 L359.50,321.94 L360.50,321.94 L360.50,321.79 L362.00,321.79 L362.00,311.85 L364.00,311.85 L364.00,299.69 L365.00,299.69 L365.00,295.03 L366.00,295.03 L366.00,290.89 L367.50,290.89 L367.50,285.54 L369.50,285.54 L369.50,272.70 L371.50,272.70 L371.50,266.53 L373.50,266.53 L373.50,255.97 L375.00,255.97 L375.00,247.68 L377.00,247.68 L377.00,247.10 L378.00,247.10 L378.00,241.08 L379.50,241.08 L379.50,245.53 L380.50,245.53 L380.50,241.68 L381.50,241.68 L381.50,246.05 L382.50,246.05 L382.50,266.70 L384.00,266.70 L384.00,269.59 L385.00,269.59 L385.00,270.94 L387.00,270.94 L387.00,283.28 L389.00,283.28 L389.00,279.52 L390.00,279.52 L390.00,299.40 L392.00,299.40 L392.00,308.54 L394.00,308.54 L394.00,313.08 L395.50,313.08 L395.50,322.01 L396.50,322.01 L396.50,328.16 L397.50,328.16 L397.50,332.09 L398.50,332.09 L398.50,336.81 L400.50,336.81 L400.50,346.85 L401.50,346.85 L401.50,352.76 L403.00,352.76 L403.00,361.07 L404.00,361.07 L404.00,361.21 L405.00,361.21 L405.00,367.54 L406.00,367.54 L406.00,369.85 L407.50,369.85 L407.50,374.47 L409.00,374.47 L409.00,380.71 L410.50,380.71 L410.50,381.12 L411.50,381.12 L411.50,383.18 L412.50,383.18 L412.50,384.55 L414.00,384.55 L414.00,385.84 L415.50,385.84 L415.50,387.77 L416.50,387.77 L416.50,387.54 L418.00,387.54 L418.00,387.97 L419.00,387.97 L419.00,388.23 L420.00,388.23 L420.00,388.77 L421.00,388.77 L421.00,389.09 L422.00,389.09 L422.00,390.07 L423.00,390.07 L423.00,389.65 L424.00,389.65 L424.00,390.02 L426.00,390.02 L426.00,390.50 Z"/></clipPath>
<line x1="385.6" y1="294.6" x2="385.6" y2="326.2" stroke="#292929" stroke-width="0.9" stroke-dasharray="2.1 1.5"/>
<line x1="387.4" y1="303.6" x2="387.4" y2="324.1" stroke="#777777" stroke-width="0.9" stroke-dasharray="2.4 1.1"/>
<line x1="388.4" y1="284.1" x2="388.4" y2="323.3" stroke="#535353" stroke-width="0.9" stroke-dasharray="0.9 0.6"/>
<line x1="390.8" y1="279.6" x2="390.8" y2="318.6" stroke="#424242" stroke-width="0.9" stroke-dasharray="0.9 1.1"/>
<line x1="391.9" y1="262.2" x2="391.9" y2="302.6" stroke="#636363" stroke-width="0.9" stroke-dasharray="1.9 0.9"/>
<line x1="394.0" y1="235.5" x2="394.0" y2="249.5" stroke="#646464" stroke-width="0.9" stroke-dasharray="1.7 1.4"/>
<line x1="395.6" y1="238.8" x2="395.6" y2="272.6" stroke="#7c7c7c" stroke-width="0.9" stroke-dasharray="1.0 1.4"/>
<line x1="396.8" y1="248.6" x2="396.8" y2="271.2" stroke="#565656" stroke-width="0.9" stroke-dasharray="0.9 1.1"/>
<line x1="397.8" y1="230.9" x2="397.8" y2="269.0" stroke="#565656" stroke-width="0.9" stroke-dasharray="1.1 1.0"/>
<line x1="399.3" y1="241.4" x2="399.3" y2="253.6" stroke="#8e8e8e" stroke-width="0.9" stroke-dasharray="2.4 1.3"/>
<line x1="401.6" y1="252.9" x2="401.6" y2="264.8" stroke="#616161" stroke-width="0.9" stroke-dasharray="1.3 0.9"/>
<line x1="402.8" y1="249.3" x2="402.8" y2="287.2" stroke="#3f3f3f" stroke-width="0.9" stroke-dasharray="2.1 0.6"/>
<line x1="404.1" y1="232.9" x2="404.1" y2="239.7" stroke="#7b7b7b" stroke-width="0.9" stroke-dasharray="1.8 0.9"/>
<line x1="405.9" y1="243.6" x2="405.9" y2="267.3" stroke="#4c4c4c" stroke-width="0.9" stroke-dasharray="1.2 0.6"/>
<line x1="408.2" y1="296.6" x2="408.2" y2="328.4" stroke="#808080" stroke-width="0.9" stroke-dasharray="1.9 1.3"/>
<path d="M327.50,385.00 L328.53,383.54 L329.56,384.70 L330.59,386.87 L331.62,387.62 L332.65,384.23 L333.68,386.94 L334.71,384.15 L335.74,385.08 L336.76,386.61 L337.79,384.51 L338.82,388.56 L339.85,381.20 L340.88,384.55 L341.91,383.78 L342.94,384.65 L343.97,385.11 L345.00,385.00 L346.04,382.26 L347.08,386.03 L348.12,382.15 L349.17,384.53 L350.21,384.80 L351.25,381.30 L352.29,384.36 L353.33,382.71 L354.38,381.49 L355.42,382.89 L356.46,383.73 L357.50,381.00 L358.67,380.73 L359.83,376.85 L361.00,374.00 L362.00,371.51 L363.00,369.13 L364.00,369.15 L365.00,366.13 L366.00,364.00 L367.00,358.18 L368.00,354.00 L369.00,350.62 L370.00,347.84 L371.00,345.85 L372.00,345.24 L373.00,340.96 L374.00,340.00 L375.00,336.63 L376.00,335.58 L377.00,335.00 L378.00,328.46 L379.00,323.45 L380.00,320.00 L381.00,316.34 L382.00,312.79 L383.00,304.99 L384.00,300.00 L385.00,295.53 L386.00,289.66 L387.00,285.00 L388.20,280.79 L389.40,273.24 L390.60,270.00 L390.60,260.00 L392.00,243.00 L393.00,235.00 L394.15,231.11 L395.30,226.80 L396.53,230.70 L397.77,228.74 L399.00,232.00 L400.00,230.47 L401.00,229.39 L402.00,227.28 L403.00,227.60 L404.00,232.33 L405.00,235.00 L406.00,243.00 L407.00,255.00 L405.50,265.00 L404.70,275.00 L404.70,300.00 L405.90,297.00 L407.10,297.08 L408.30,292.39 L409.50,290.00 L410.00,300.00 L411.30,306.08 L412.60,314.00 L412.60,320.00 L414.00,332.00 L415.30,338.98 L416.60,348.60 L417.63,352.04 L418.67,360.10 L419.70,364.30 L420.80,367.63 L421.90,374.06 L423.00,375.30 L424.00,377.91 L425.00,381.18 L426.00,383.00 L427.18,384.74 L428.35,383.02 L429.52,387.06 L430.70,387.00 L431.73,387.66 L432.77,386.45 L433.80,387.60 L434.83,388.78 L435.87,389.00 L436.90,389.50 L437.93,389.64 L438.97,391.05 L440.00,389.50 L441.00,389.28 L442.00,388.97 L443.00,389.07 L444.00,390.13 L445.00,388.67 L446.00,387.76 L447.00,387.82 L448.00,391.53 L449.00,389.89 L450.00,391.62 L451.00,390.42 L452.00,389.75 L453.00,392.11 L454.00,391.67 L455.00,392.95 L456.00,388.01 L457.00,388.87 L458.00,390.28 L459.00,386.84 L460.00,390.42 L461.00,388.42 L462.00,388.82 L463.00,388.05 L464.00,391.47 L465.00,390.58 L466.00,387.80 L467.00,387.31 L468.00,391.49 L469.00,391.47 L470.00,389.60 L471.00,392.75 L472.00,390.36 L473.00,390.20 L474.00,391.26 L475.00,389.43 L476.00,388.74 L477.00,391.59 L478.00,389.86 L479.00,389.90 L480.00,392.05 L481.00,390.61 L482.00,388.50 L483.00,391.41 L484.00,390.00 L485.00,390.39 L486.00,389.91 L487.00,392.56 L488.00,390.50" fill="none" stroke="#777" stroke-width="1.0" stroke-dasharray="1.8 1.4"/>
<path d="M292.00,390.50 L292.00,383.74 L293.50,383.74 L293.50,387.78 L294.50,387.78 L294.50,382.70 L296.50,382.70 L296.50,386.66 L298.50,386.66 L298.50,386.03 L299.50,386.03 L299.50,386.81 L301.50,386.81 L301.50,385.75 L302.50,385.75 L302.50,387.71 L303.50,387.71 L303.50,387.90 L305.50,387.90 L305.50,387.64 L306.50,387.64 L306.50,387.44 L307.50,387.44 L307.50,385.63 L308.50,385.63 L308.50,381.40 L310.00,381.40 L310.00,387.39 L311.00,387.39 L311.00,386.10 L312.00,386.10 L312.00,387.83 L313.00,387.83 L313.00,380.11 L314.00,380.11 L314.00,387.42 L316.00,387.42 L316.00,383.32 L318.00,383.32 L318.00,383.53 L320.00,383.53 L320.00,377.55 L321.00,377.55 L321.00,383.04 L322.50,383.04 L322.50,383.33 L324.50,383.33 L324.50,374.76 L326.00,374.76 L326.00,382.73 L327.00,382.73 L327.00,382.01 L328.00,382.01 L328.00,382.68 L329.00,382.68 L329.00,373.92 L330.00,373.92 L330.00,372.31 L332.00,372.31 L332.00,377.21 L333.00,377.21 L333.00,373.78 L334.00,373.78 L334.00,374.00 L335.00,374.00 L335.00,369.84 L336.00,369.84 L336.00,369.62 L337.50,369.62 L337.50,360.09 L339.50,360.09 L339.50,355.00 L340.50,355.00 L340.50,352.28 L342.50,352.28 L342.50,358.17 L344.00,358.17 L344.00,359.71 L345.00,359.71 L345.00,358.41 L347.00,358.41 L347.00,348.74 L348.00,348.74 L348.00,359.55 L349.00,359.55 L349.00,350.09 L350.50,350.09 L350.50,351.04 L352.00,351.04 L352.00,349.41 L353.00,349.41 L353.00,358.02 L354.00,358.02 L354.00,352.56 L356.00,352.56 L356.00,333.86 L357.50,333.86 L357.50,326.73 L359.50,326.73 L359.50,321.94 L360.50,321.94 L360.50,321.79 L362.00,321.79 L362.00,311.85 L364.00,311.85 L364.00,299.69 L365.00,299.69 L365.00,295.03 L366.00,295.03 L366.00,290.89 L367.50,290.89 L367.50,285.54 L369.50,285.54 L369.50,272.70 L371.50,272.70 L371.50,266.53 L373.50,266.53 L373.50,255.97 L375.00,255.97 L375.00,247.68 L377.00,247.68 L377.00,247.10 L378.00,247.10 L378.00,241.08 L379.50,241.08 L379.50,245.53 L380.50,245.53 L380.50,241.68 L381.50,241.68 L381.50,246.05 L382.50,246.05 L382.50,266.70 L384.00,266.70 L384.00,269.59 L385.00,269.59 L385.00,270.94 L387.00,270.94 L387.00,283.28 L389.00,283.28 L389.00,279.52 L390.00,279.52 L390.00,299.40 L392.00,299.40 L392.00,308.54 L394.00,308.54 L394.00,313.08 L395.50,313.08 L395.50,322.01 L396.50,322.01 L396.50,328.16 L397.50,328.16 L397.50,332.09 L398.50,332.09 L398.50,336.81 L400.50,336.81 L400.50,346.85 L401.50,346.85 L401.50,352.76 L403.00,352.76 L403.00,361.07 L404.00,361.07 L404.00,361.21 L405.00,361.21 L405.00,367.54 L406.00,367.54 L406.00,369.85 L407.50,369.85 L407.50,374.47 L409.00,374.47 L409.00,380.71 L410.50,380.71 L410.50,381.12 L411.50,381.12 L411.50,383.18 L412.50,383.18 L412.50,384.55 L414.00,384.55 L414.00,385.84 L415.50,385.84 L415.50,387.77 L416.50,387.77 L416.50,387.54 L418.00,387.54 L418.00,387.97 L419.00,387.97 L419.00,388.23 L420.00,388.23 L420.00,388.77 L421.00,388.77 L421.00,389.09 L422.00,389.09 L422.00,390.07 L423.00,390.07 L423.00,389.65 L424.00,389.65 L424.00,390.02 L426.00,390.02 L426.00,390.50 Z" fill="#000"/>
<rect x="315.40" y="373.75" width="1.20" height="16.75" fill="#000"/>
<rect x="329.80" y="366.50" width="1.20" height="24.00" fill="#000"/>
<rect x="339.90" y="347.50" width="1.40" height="43.00" fill="#000"/>
<rect x="342.00" y="346.00" width="1.20" height="44.50" fill="#000"/>
<rect x="346.85" y="342.50" width="1.30" height="48.00" fill="#000"/>
<rect x="353.35" y="342.50" width="1.30" height="48.00" fill="#000"/>
<rect x="358.50" y="286.00" width="1.00" height="104.50" fill="#000"/>
<rect x="363.80" y="294.40" width="1.60" height="96.10" fill="#000"/>
<rect x="373.60" y="251.00" width="1.20" height="139.50" fill="#000"/>
<rect x="377.00" y="225.60" width="1.60" height="164.90" fill="#000"/>
<rect x="379.10" y="232.00" width="1.00" height="158.50" fill="#000"/>
<rect x="380.70" y="241.00" width="1.20" height="149.50" fill="#000"/>
<rect x="387.80" y="254.40" width="1.20" height="136.10" fill="#000"/>
<rect x="402.15" y="350.00" width="1.30" height="40.50" fill="#000"/>
<path d="M327.50,385.00 L328.53,383.54 L329.56,384.70 L330.59,386.87 L331.62,387.62 L332.65,384.23 L333.68,386.94 L334.71,384.15 L335.74,385.08 L336.76,386.61 L337.79,384.51 L338.82,388.56 L339.85,381.20 L340.88,384.55 L341.91,383.78 L342.94,384.65 L343.97,385.11 L345.00,385.00 L346.04,382.26 L347.08,386.03 L348.12,382.15 L349.17,384.53 L350.21,384.80 L351.25,381.30 L352.29,384.36 L353.33,382.71 L354.38,381.49 L355.42,382.89 L356.46,383.73 L357.50,381.00 L358.67,380.73 L359.83,376.85 L361.00,374.00 L362.00,371.51 L363.00,369.13 L364.00,369.15 L365.00,366.13 L366.00,364.00 L367.00,358.18 L368.00,354.00 L369.00,350.62 L370.00,347.84 L371.00,345.85 L372.00,345.24 L373.00,340.96 L374.00,340.00 L375.00,336.63 L376.00,335.58 L377.00,335.00 L378.00,328.46 L379.00,323.45 L380.00,320.00 L381.00,316.34 L382.00,312.79 L383.00,304.99 L384.00,300.00 L385.00,295.53 L386.00,289.66 L387.00,285.00 L388.20,280.79 L389.40,273.24 L390.60,270.00 L390.60,260.00 L392.00,243.00 L393.00,235.00 L394.15,231.11 L395.30,226.80 L396.53,230.70 L397.77,228.74 L399.00,232.00 L400.00,230.47 L401.00,229.39 L402.00,227.28 L403.00,227.60 L404.00,232.33 L405.00,235.00 L406.00,243.00 L407.00,255.00 L405.50,265.00 L404.70,275.00 L404.70,300.00 L405.90,297.00 L407.10,297.08 L408.30,292.39 L409.50,290.00 L410.00,300.00 L411.30,306.08 L412.60,314.00 L412.60,320.00 L414.00,332.00 L415.30,338.98 L416.60,348.60 L417.63,352.04 L418.67,360.10 L419.70,364.30 L420.80,367.63 L421.90,374.06 L423.00,375.30 L424.00,377.91 L425.00,381.18 L426.00,383.00 L427.18,384.74 L428.35,383.02 L429.52,387.06 L430.70,387.00 L431.73,387.66 L432.77,386.45 L433.80,387.60 L434.83,388.78 L435.87,389.00 L436.90,389.50 L437.93,389.64 L438.97,391.05 L440.00,389.50 L441.00,389.28 L442.00,388.97 L443.00,389.07 L444.00,390.13 L445.00,388.67 L446.00,387.76 L447.00,387.82 L448.00,391.53 L449.00,389.89 L450.00,391.62 L451.00,390.42 L452.00,389.75 L453.00,392.11 L454.00,391.67 L455.00,392.95 L456.00,388.01 L457.00,388.87 L458.00,390.28 L459.00,386.84 L460.00,390.42 L461.00,388.42 L462.00,388.82 L463.00,388.05 L464.00,391.47 L465.00,390.58 L466.00,387.80 L467.00,387.31 L468.00,391.49 L469.00,391.47 L470.00,389.60 L471.00,392.75 L472.00,390.36 L473.00,390.20 L474.00,391.26 L475.00,389.43 L476.00,388.74 L477.00,391.59 L478.00,389.86 L479.00,389.90 L480.00,392.05 L481.00,390.61 L482.00,388.50 L483.00,391.41 L484.00,390.00 L485.00,390.39 L486.00,389.91 L487.00,392.56 L488.00,390.50" fill="none" stroke="#fff" stroke-width="1.1" stroke-dasharray="2 1" clip-path="url(#clipD)"/>
<line x1="292.3" y1="225.8" x2="292.3" y2="390.5" stroke="#777" stroke-width="1"/>
<line x1="294.3" y1="388.50" x2="405" y2="388.50" stroke="#fff" stroke-width="0.9" stroke-dasharray="1.3 2.2" opacity="0.8"/>
<line x1="292.3" y1="390.5" x2="425" y2="390.5" stroke="#111" stroke-width="1.1"/>
<line x1="425" y1="390.5" x2="488" y2="390.5" stroke="#333" stroke-width="1.1" stroke-dasharray="2.2 1.6"/>
<line x1="290.3" y1="225.80" x2="292.3" y2="225.80" stroke="#444" stroke-width="0.8"/>
<line x1="290.3" y1="242.27" x2="292.3" y2="242.27" stroke="#444" stroke-width="0.8"/>
<line x1="290.3" y1="258.74" x2="292.3" y2="258.74" stroke="#444" stroke-width="0.8"/>
<line x1="290.3" y1="275.21" x2="292.3" y2="275.21" stroke="#444" stroke-width="0.8"/>
<line x1="290.3" y1="291.68" x2="292.3" y2="291.68" stroke="#444" stroke-width="0.8"/>
<line x1="290.3" y1="308.15" x2="292.3" y2="308.15" stroke="#444" stroke-width="0.8"/>
<line x1="290.3" y1="324.62" x2="292.3" y2="324.62" stroke="#444" stroke-width="0.8"/>
<line x1="290.3" y1="341.09" x2="292.3" y2="341.09" stroke="#444" stroke-width="0.8"/>
<line x1="290.3" y1="357.56" x2="292.3" y2="357.56" stroke="#444" stroke-width="0.8"/>
<line x1="290.3" y1="374.03" x2="292.3" y2="374.03" stroke="#444" stroke-width="0.8"/>
<line x1="290.3" y1="390.50" x2="292.3" y2="390.50" stroke="#444" stroke-width="0.8"/>
<text x="49.0" y="8.7" text-anchor="end" font-family='"Liberation Sans", sans-serif' font-weight="bold" font-size="10" stroke="#000" stroke-width="0.35">70</text>
<text x="288.5" y="8.7" text-anchor="end" font-family='"Liberation Sans", sans-serif' font-weight="bold" font-size="10" stroke="#000" stroke-width="0.35">70</text>
<text x="50.0" y="228.8" text-anchor="end" font-family='"Liberation Sans", sans-serif' font-weight="bold" font-size="10" stroke="#000" stroke-width="0.35">70</text>
<text x="286.3" y="231.2" text-anchor="end" font-family='"Liberation Sans", sans-serif' font-weight="bold" font-size="10" stroke="#000" stroke-width="0.35">70</text>
<text x="47.5" y="185.5" font-family='"Liberation Sans", sans-serif' font-weight="bold" font-size="10" letter-spacing="0.5" stroke="#000" stroke-width="0.35">10<tspan dx="0.8" dy="-2.0">0</tspan></text>
<text x="93.8" y="185.5" font-family='"Liberation Sans", sans-serif' font-weight="bold" font-size="10" letter-spacing="0.5" stroke="#000" stroke-width="0.35">10<tspan dx="0.8" dy="-2.0">1</tspan></text>
<text x="141.0" y="185.5" font-family='"Liberation Sans", sans-serif' font-weight="bold" font-size="10" letter-spacing="0.5" stroke="#000" stroke-width="0.35">10<tspan dx="0.8" dy="-2.0">2</tspan></text>
<text x="196.0" y="185.5" font-family='"Liberation Sans", sans-serif' font-weight="bold" font-size="10" letter-spacing="0.5" stroke="#000" stroke-width="0.35">10<tspan dx="0.8" dy="-2.0">3</tspan></text>
<text x="286.3" y="188.8" font-family='"Liberation Sans", sans-serif' font-weight="bold" font-size="10" letter-spacing="0.5" stroke="#000" stroke-width="0.35">10<tspan dx="0.8" dy="-2.0">0</tspan></text>
<text x="332.3" y="188.8" font-family='"Liberation Sans", sans-serif' font-weight="bold" font-size="10" letter-spacing="0.5" stroke="#000" stroke-width="0.35">10<tspan dx="0.8" dy="-2.0">1</tspan></text>
<text x="379.3" y="188.8" font-family='"Liberation Sans", sans-serif' font-weight="bold" font-size="10" letter-spacing="0.5" stroke="#000" stroke-width="0.35">10<tspan dx="0.8" dy="-2.0">2</tspan></text>
<text x="433.8" y="188.8" font-family='"Liberation Sans", sans-serif' font-weight="bold" font-size="10" letter-spacing="0.5" stroke="#000" stroke-width="0.35">10<tspan dx="0.8" dy="-2.0">3</tspan></text>
<text x="46.8" y="406.0" font-family='"Liberation Sans", sans-serif' font-weight="bold" font-size="10" letter-spacing="0.5" stroke="#000" stroke-width="0.35">10<tspan dx="0.8" dy="-2.0">0</tspan></text>
<text x="93.5" y="406.0" font-family='"Liberation Sans", sans-serif' font-weight="bold" font-size="10" letter-spacing="0.5" stroke="#000" stroke-width="0.35">10<tspan dx="0.8" dy="-2.0">1</tspan></text>
<text x="141.0" y="406.0" font-family='"Liberation Sans", sans-serif' font-weight="bold" font-size="10" letter-spacing="0.5" stroke="#000" stroke-width="0.35">10<tspan dx="0.8" dy="-2.0">2</tspan></text>
<text x="197.2" y="406.0" font-family='"Liberation Sans", sans-serif' font-weight="bold" font-size="10" letter-spacing="0.5" stroke="#000" stroke-width="0.35">10<tspan dx="0.8" dy="-2.0">3</tspan></text>
<text x="283.8" y="406.8" font-family='"Liberation Sans", sans-serif' font-weight="bold" font-size="10" letter-spacing="0.5" stroke="#000" stroke-width="0.35">10<tspan dx="0.8" dy="-2.0">0</tspan></text>
<text x="330.6" y="406.8" font-family='"Liberation Sans", sans-serif' font-weight="bold" font-size="10" letter-spacing="0.5" stroke="#000" stroke-width="0.35">10<tspan dx="0.8" dy="-2.0">1</tspan></text>
<text x="377.8" y="406.8" font-family='"Liberation Sans", sans-serif' font-weight="bold" font-size="10" letter-spacing="0.5" stroke="#000" stroke-width="0.35">10<tspan dx="0.8" dy="-2.0">2</tspan></text>
<text x="432.3" y="406.8" font-family='"Liberation Sans", sans-serif' font-weight="bold" font-size="10" letter-spacing="0.5" stroke="#000" stroke-width="0.35">10<tspan dx="0.8" dy="-2.0">3</tspan></text>
<text x="226.6" y="159.6" font-family='"Liberation Serif", serif' font-weight="bold" font-size="25" stroke="#000" stroke-width="0.3">A</text>
<text x="463.8" y="161.2" font-family='"Liberation Serif", serif' font-weight="bold" font-size="25" stroke="#000" stroke-width="0.3">C</text>
<text x="224.1" y="378.9" font-family='"Liberation Serif", serif' font-weight="bold" font-size="25" stroke="#000" stroke-width="0.3">B</text>
<text x="462.4" y="378.6" font-family='"Liberation Serif", serif' font-weight="bold" font-size="25" stroke="#000" stroke-width="0.3">D</text>
<text transform="translate(179.90,21.0) scale(0.93,1)" font-family='"Liberation Serif", serif' font-weight="bold" font-size="16" stroke="#000" stroke-width="0.3">Thr.</text>
<text transform="translate(216.30,21.0) scale(0.93,1)" font-family='"Liberation Serif", serif' font-weight="bold" font-size="16" stroke="#000" stroke-width="0.3">5.0</text>
<text transform="translate(242.80,21.0) scale(0.93,1)" font-family='"Liberation Serif", serif' font-weight="bold" font-size="16" stroke="#000" stroke-width="0.3">nM</text>
<text transform="translate(416.50,21.8) scale(0.93,1)" font-family='"Liberation Serif", serif' font-weight="bold" font-size="16" stroke="#000" stroke-width="0.3">Cat.</text>
<text transform="translate(450.00,21.8) scale(0.93,1)" font-family='"Liberation Serif", serif' font-weight="bold" font-size="16" stroke="#000" stroke-width="0.3">G</text>
<text transform="translate(468.60,21.8) scale(0.93,1)" font-family='"Liberation Serif", serif' font-weight="bold" font-size="16" stroke="#000" stroke-width="0.3">600</text>
<text transform="translate(497.30,21.8) scale(0.93,1)" font-family='"Liberation Serif", serif' font-weight="bold" font-size="16" stroke="#000" stroke-width="0.3">nM</text>
<text transform="translate(175.40,242.3) scale(0.93,1)" font-family='"Liberation Serif", serif' font-weight="bold" font-size="16" stroke="#000" stroke-width="0.3">HLE</text>
<text transform="translate(213.40,242.3) scale(0.93,1)" font-family='"Liberation Serif", serif' font-weight="bold" font-size="16" stroke="#000" stroke-width="0.3">600</text>
<text transform="translate(241.30,242.3) scale(0.93,1)" font-family='"Liberation Serif", serif' font-weight="bold" font-size="16" stroke="#000" stroke-width="0.3">nM</text>
<text transform="translate(429.80,240.3) scale(0.93,1)" font-family='"Liberation Serif", serif' font-weight="bold" font-size="16" stroke="#000" stroke-width="0.3">PR3</text>
<text transform="translate(464.60,240.3) scale(0.93,1)" font-family='"Liberation Serif", serif' font-weight="bold" font-size="16" stroke="#000" stroke-width="0.3">600</text>
<text transform="translate(493.60,240.3) scale(0.93,1)" font-family='"Liberation Serif", serif' font-weight="bold" font-size="16" stroke="#000" stroke-width="0.3">nM</text>
<text x="176.3" y="442.8" font-family='"Liberation Serif", serif' font-weight="bold" font-size="12" stroke="#000" stroke-width="0.3" textLength="196.7" lengthAdjust="spacingAndGlyphs">FLUORESCENCE INTENSITY</text>
<text transform="translate(11,247.6) rotate(-90)" x="0" y="0" font-family='"Liberation Serif", serif' font-weight="bold" font-size="11.5" stroke="#000" stroke-width="0.3" textLength="102.6" lengthAdjust="spacingAndGlyphs">CELL NUMBER</text>
</svg>
</body></html>
